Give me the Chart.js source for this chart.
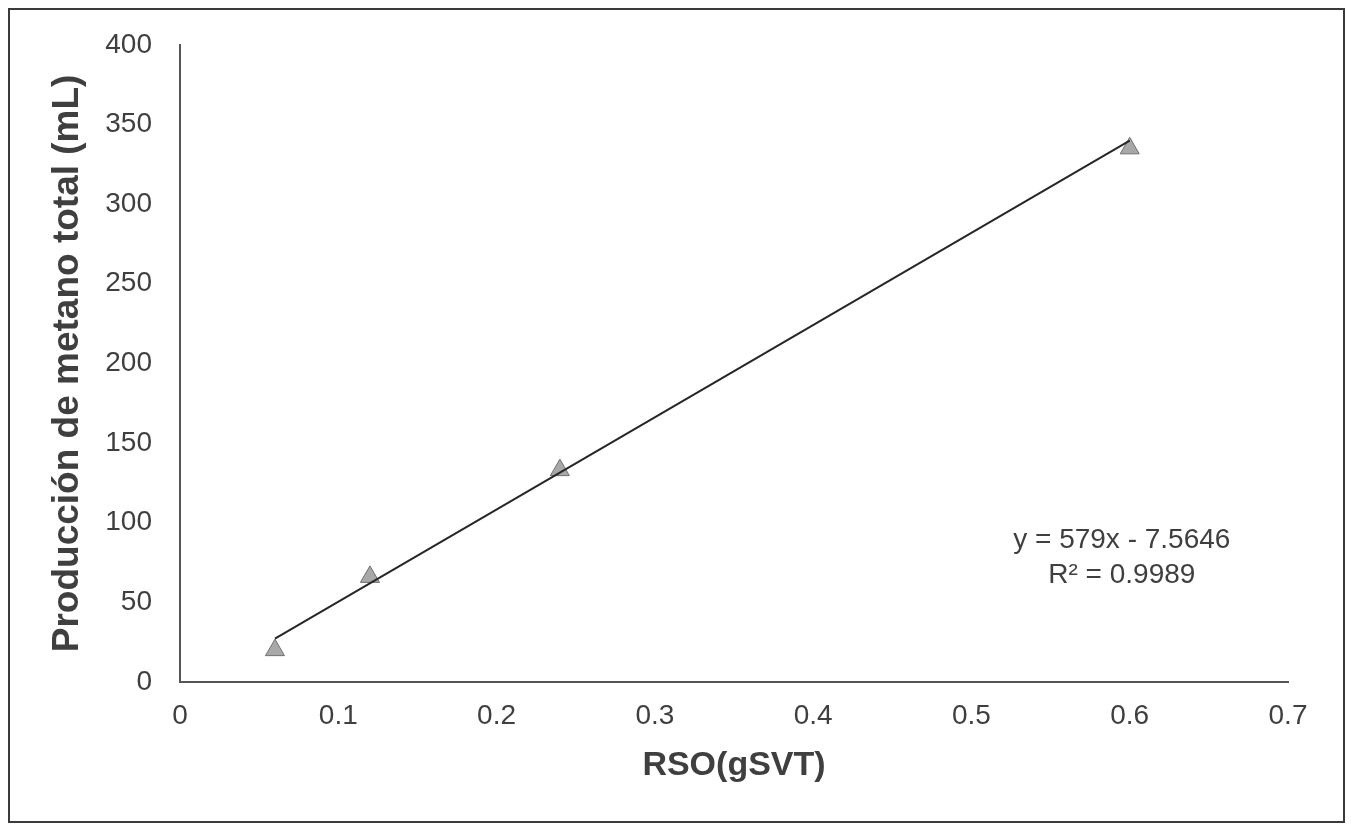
<!DOCTYPE html>
<html>
<head>
<meta charset="utf-8">
<script src="https://cdn.jsdelivr.net/npm/chart.js@4"></script>
<style>
    html, body { margin: 0; padding: 0; background: #fff; }
    #wrap { position: relative; width: 1351px; height: 828px; }
    #frame {
        position: absolute; left: 8px; top: 8px; width: 1337px; height: 815px;
        box-sizing: border-box; border: 2px solid #3a3a3a;
    }
    #chart { position: absolute; left: 0; top: 0; }
</style>
</head>
<body>
<div id="wrap">
    <canvas id="chart" width="1351" height="828"></canvas>
    <div id="frame"></div>
</div>
<script>
// --- DATA ---
const rsoValues = [0.06, 0.12, 0.24, 0.6];
const methaneValues = [20, 66, 133, 335];
const xTickLabels = ['0', '0.1', '0.2', '0.3', '0.4', '0.5', '0.6', '0.7'];
const yTickLabels = ['0', '50', '100', '150', '200', '250', '300', '350', '400'];
const trendSlope = 579;
const trendIntercept = -7.5646;
const equationLines = ['y = 579x - 7.5646', 'R² = 0.9989'];

const xTitle = 'RSO(gSVT)';
const yTitle = 'Producción de metano total (mL)';

const textColor = '#3f3f3f';
const fontFamily = '"Liberation Sans", Arial, sans-serif';

// --- BUILD ---
const points = rsoValues.map((x, i) => ({ x: x, y: methaneValues[i] }));
const xFirst = rsoValues[0];
const xLast = rsoValues[rsoValues.length - 1];
const trendPoints = [
    { x: xFirst, y: trendSlope * xFirst + trendIntercept },
    { x: xLast, y: trendSlope * xLast + trendIntercept }
];

// equation label next to the trendline
const equationPlugin = {
    id: 'equation',
    afterDatasetsDraw(chart) {
        const { ctx, scales } = chart;
        const cx = scales.x.getPixelForValue(0.595);
        ctx.save();
        ctx.fillStyle = textColor;
        ctx.font = '28px ' + fontFamily;
        ctx.textAlign = 'center';
        ctx.textBaseline = 'middle';
        ctx.fillText(equationLines[0], cx, scales.y.getPixelForValue(89));
        ctx.fillText(equationLines[1], cx, scales.y.getPixelForValue(67));
        ctx.restore();
    }
};

new Chart(document.getElementById('chart'), {
    type: 'scatter',
    data: {
        datasets: [
            {
                label: 'Tendencia',
                data: trendPoints,
                showLine: true,
                borderColor: '#262626',
                borderWidth: 2,
                pointRadius: 0
            },
            {
                label: 'Metano',
                data: points,
                pointStyle: 'triangle',
                pointRadius: 11,
                backgroundColor: '#a8a8a8',
                borderColor: '#707070',
                borderWidth: 1
            }
        ]
    },
    options: {
        responsive: false,
        animation: false,
        layout: { padding: { top: 42, right: 63, left: 0, bottom: 0 } },
        plugins: { legend: { display: false }, tooltip: { enabled: false } },
        scales: {
            x: {
                type: 'linear',
                min: 0,
                max: 0.7,
                afterFit(scale) { scale.height = 146; },
                grid: { display: false, drawTicks: false },
                border: { display: true, color: '#555', width: 2 },
                ticks: {
                    stepSize: 0.1,
                    padding: 17,
                    color: textColor,
                    font: { family: fontFamily, size: 28 },
                    callback: (v, i) => xTickLabels[i]
                },
                title: {
                    display: true,
                    text: xTitle,
                    color: textColor,
                    font: { family: fontFamily, size: 34, weight: 'bold' },
                    padding: { top: 0, bottom: 42 }
                }
            },
            y: {
                min: 0,
                max: 400,
                afterFit(scale) { scale.width = 180; },
                grid: { display: false, drawTicks: false },
                border: { display: true, color: '#555', width: 2 },
                ticks: {
                    stepSize: 50,
                    padding: 28,
                    color: textColor,
                    font: { family: fontFamily, size: 28 },
                    callback: (v, i) => yTickLabels[i]
                },
                title: {
                    display: true,
                    text: yTitle,
                    color: textColor,
                    font: { family: fontFamily, size: 37, weight: 'bold' },
                    padding: { top: 46, bottom: 0 }
                }
            }
        }
    },
    plugins: [equationPlugin]
});
</script>
</body>
</html>
